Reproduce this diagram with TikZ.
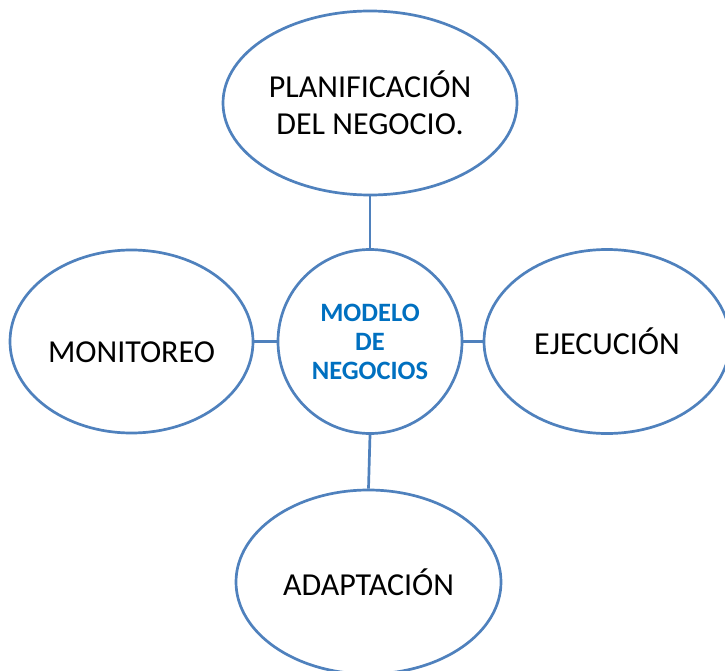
\documentclass[tikz,border=0pt]{standalone}
\usepackage{fontspec}
\setmainfont{Carlito}
\usetikzlibrary{shapes.geometric}
\definecolor{edgeblue}{HTML}{4F81BD}
\definecolor{textblue}{HTML}{0070C0}
\begin{document}
\begin{tikzpicture}[x=1pt,y=-1pt,
  bubble/.style={ellipse,draw=edgeblue,line width=2.7pt,fill=white,inner sep=0pt,
    font=\fontsize{32}{37}\selectfont,align=center},
  hub/.style={circle,draw=edgeblue,line width=2.7pt,fill=white,inner sep=0pt,
    minimum size=184pt,text=textblue,font=\fontsize{26.5}{29}\selectfont\bfseries,align=center},
  link/.style={draw=edgeblue,line width=2.7pt}]
\useasboundingbox (0,0) rectangle (725,671);
\clip (0,0) rectangle (725,671);
\node[hub] (hub) at (370,341.5) {MODELO\\DE\\NEGOCIOS};
\node[bubble,minimum width=294pt,minimum height=184pt] (top) at (370,103) {PLANIFICACIÓN\\DEL NEGOCIO.};
\node[bubble,minimum width=243pt,minimum height=183pt] (left) at (131.5,341.5) {\smash{\raisebox{-20.5pt}{MONITOREO}}};
\node[bubble,minimum width=246pt,minimum height=184pt] (right) at (607,341.5) {EJECUCIÓN};
\node[bubble,minimum width=265pt,minimum height=184pt] (bottom) at (368.5,582) {ADAPTACIÓN};
\draw[link] (top.south) -- (hub.north);
\draw[link] (left.east) -- (hub.west);
\draw[link] (hub.east) -- (right.west);
\draw[link] (hub.south) -- (bottom.north);
\end{tikzpicture}
\end{document}
